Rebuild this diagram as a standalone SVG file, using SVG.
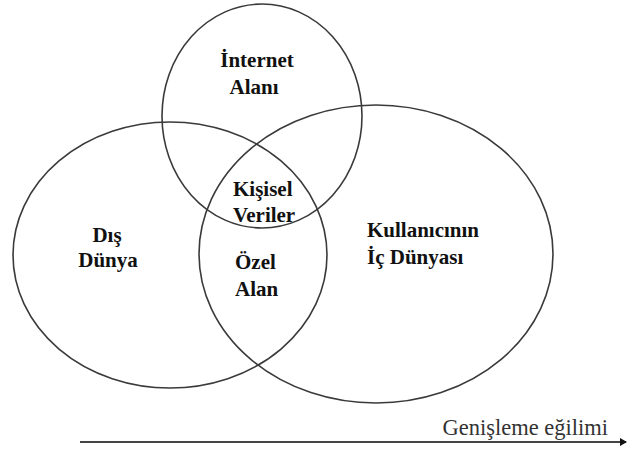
<svg xmlns="http://www.w3.org/2000/svg" width="632" height="454" viewBox="0 0 632 454">
<style>
.set{fill:none;stroke:#3a3a3a;stroke-width:1.6}
.lbl{font-family:"Liberation Serif","Times New Roman",serif;font-weight:bold;font-size:21px;fill:#111}
.axis{font-family:"Liberation Serif","Times New Roman",serif;font-size:22.5px;fill:#333}
</style>
<defs>
<marker id="ah" markerWidth="8" markerHeight="8" refX="6" refY="4" orient="auto" markerUnits="userSpaceOnUse">
<path d="M0,0 L7,4 L0,8 Z" fill="#111"/>
</marker>
</defs>
<rect width="632" height="454" fill="#fff"/>
<g id="internet">
<ellipse class="set" cx="262" cy="116" rx="100" ry="112"/>
<text class="lbl" x="257" y="67" text-anchor="middle">İnternet</text>
<text class="lbl" x="254" y="94" text-anchor="middle">Alanı</text>
</g>
<g id="dis-dunya">
<ellipse class="set" cx="170" cy="255" rx="157" ry="133"/>
<text class="lbl" x="107" y="242" text-anchor="middle">Dış</text>
<text class="lbl" x="108" y="267" text-anchor="middle">Dünya</text>
</g>
<g id="ic-dunya">
<ellipse class="set" cx="376" cy="254" rx="177" ry="149"/>
<text class="lbl" x="367" y="237">Kullanıcının</text>
<text class="lbl" x="367" y="264">İç Dünyası</text>
</g>
<g id="kisisel">
<text class="lbl" x="233" y="196">Kişisel</text>
<text class="lbl" x="233" y="222">Veriler</text>
</g>
<g id="ozel">
<text class="lbl" x="235" y="269">Özel</text>
<text class="lbl" x="235" y="296">Alan</text>
</g>
<g id="connectors">
<line x1="80" y1="442" x2="626" y2="442" stroke="#444" stroke-width="2" marker-end="url(#ah)"/>
<text class="axis" x="608" y="435" text-anchor="end">Genişleme eğilimi</text>
</g>
</svg>
